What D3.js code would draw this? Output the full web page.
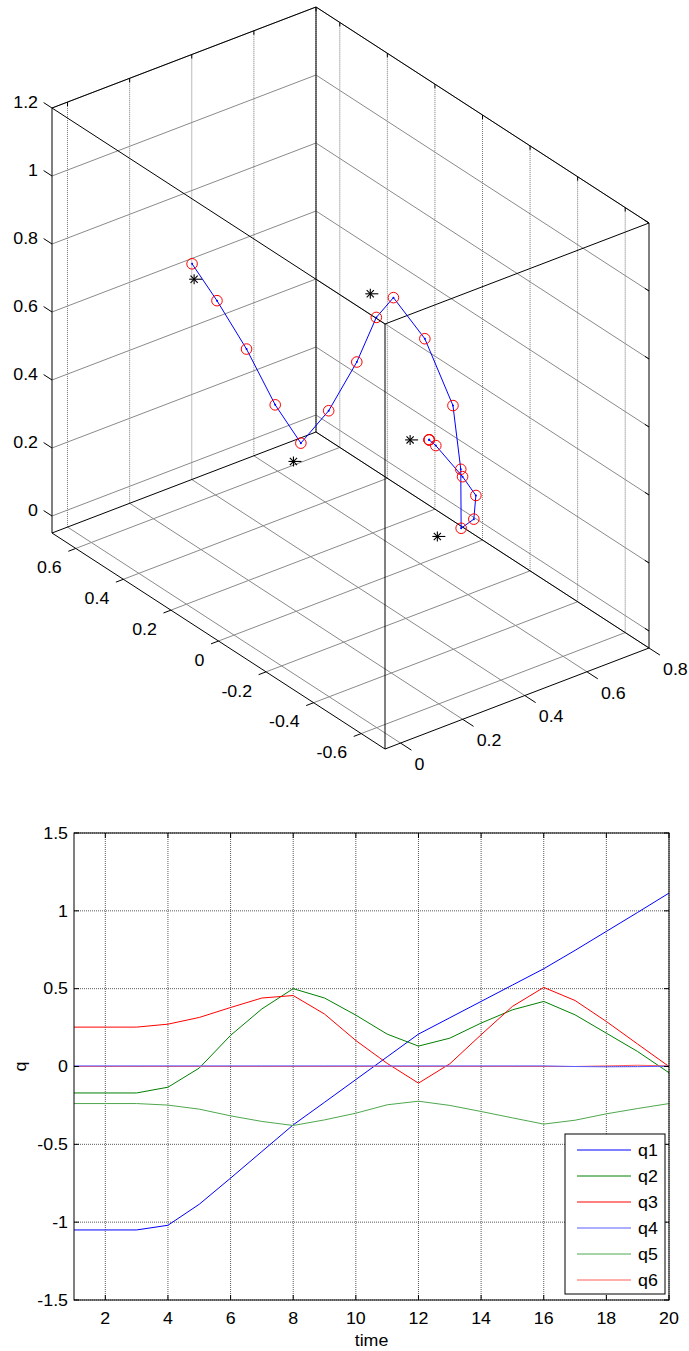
<!DOCTYPE html>
<html>
<head>
<meta charset="utf-8">
<script src="https://cdn.jsdelivr.net/npm/d3@7"></script>
<style>
  body { margin: 0; background: #fff; }
  svg text { font-family: "Liberation Sans", Arial, sans-serif; font-size: 16.5px; fill: #000; }
</style>
</head>
<body>
<svg id="fig" width="689" height="1351"></svg>
<script>
// ---- End-effector path (20 samples) ----
const pathX = [0.269, 0.269, 0.269, 0.289, 0.382, 0.467, 0.527, 0.562, 0.619, 0.662,
               0.645, 0.612, 0.609, 0.599, 0.546, 0.484, 0.455, 0.414, 0.328, 0.244];
const pathY = [-0.469, -0.469, -0.469, -0.471, -0.462, -0.407, -0.320, -0.221, -0.145, -0.056,
               0.040, 0.129, 0.197, 0.266, 0.315, 0.351, 0.421, 0.488, 0.500, 0.495];
const pathZ = [0.643, 0.643, 0.643, 0.620, 0.492, 0.382, 0.252, 0.168, 0.287, 0.419,
               0.578, 0.670, 0.582, 0.423, 0.276, 0.186, 0.277, 0.425, 0.592, 0.732];

// ---- Target points ----
const targetX = [0.243, 0.503, 0.523, 0.431, 0.233];
const targetY = [-0.423, -0.198, 0.110, 0.313, 0.472];
const targetZ = [0.631, 0.154, 0.721, 0.168, 0.701];

// ---- 3D axes ----
const xLim3 = [-0.05, 0.8], yLim3 = [-0.7, 0.7], zLim3 = [-0.05, 1.2];
const xTicks3 = [0, 0.2, 0.4, 0.6, 0.8];
const yTicks3 = [-0.6, -0.4, -0.2, 0, 0.2, 0.4, 0.6];
const zTicks3 = [0, 0.2, 0.4, 0.6, 0.8, 1, 1.2];

// ---- Joint angles vs time ----
const time = d3.range(1, 21);
const q1 = [-1.05, -1.05, -1.05, -1.02, -0.885, -0.717, -0.546, -0.375, -0.23, -0.084,
            0.062, 0.208, 0.313, 0.418, 0.523, 0.628, 0.746, 0.868, 0.99, 1.114];
const q2 = [-0.17, -0.17, -0.17, -0.133, -0.01, 0.2, 0.37, 0.5, 0.44, 0.33,
            0.208, 0.131, 0.182, 0.279, 0.364, 0.418, 0.332, 0.214, 0.096, -0.04];
const q3 = [0.253, 0.253, 0.253, 0.272, 0.315, 0.379, 0.44, 0.456, 0.337, 0.167,
            0.02, -0.107, 0.017, 0.204, 0.386, 0.508, 0.424, 0.289, 0.144, 0.0];
const q4 = [0.004, 0.004, 0.004, 0.004, 0.004, 0.004, 0.004, 0.004, 0.004, 0.004,
            0.004, 0.004, 0.004, 0.004, 0.004, 0.004, 0.0, -0.002, -0.001, 0.002];
const q5 = [-0.238, -0.238, -0.238, -0.248, -0.274, -0.317, -0.353, -0.379, -0.343, -0.3,
            -0.246, -0.223, -0.25, -0.289, -0.33, -0.37, -0.345, -0.304, -0.27, -0.238];
const q6 = [0, 0, 0, 0, 0, 0, 0, 0, 0, 0, 0, 0, 0, 0, 0, 0, 0, 0.004, 0.008, 0.004];
const seriesNames = ["q1", "q2", "q3", "q4", "q5", "q6"];
const seriesColors = ["#0000ff", "#008000", "#ff0000", "#5c5cff", "#4ea84e", "#ff5c5c"];
const timeTicks = [2, 4, 6, 8, 10, 12, 14, 16, 18, 20];
const qTicks = [-1.5, -1, -0.5, 0, 0.5, 1, 1.5];

const svg = d3.select("#fig");
const fmt = d => String(d);

// text with a slight horizontal stretch
function label(g, x, y, s, anchor) {
  return g.append("text")
    .attr("transform", `translate(${x},${y}) scale(1.08,1)`)
    .attr("text-anchor", anchor)
    .attr("dy", "0.35em")
    .text(s);
}

// ================= 3D view =================
const g3 = svg.append("g");
const corner = { L: [52, 533], B: [316, 432], F: [385, 749] };
const boxH = 425;
const sx = d3.scaleLinear().domain(xLim3).range([0, 1]);
const sy = d3.scaleLinear().domain([yLim3[1], yLim3[0]]).range([0, 1]);
const sz = d3.scaleLinear().domain(zLim3).range([0, 1]);
const ex = [corner.B[0] - corner.L[0], corner.B[1] - corner.L[1]];
const ey = [corner.F[0] - corner.L[0], corner.F[1] - corner.L[1]];
function proj(x, y, z) {
  const a = sx(x), b = sy(y), c = sz(z);
  return [corner.L[0] + a * ex[0] + b * ey[0],
          corner.L[1] + a * ex[1] + b * ey[1] - c * boxH];
}
function seg(g, p, q, stroke, dash, w) {
  g.append("line")
    .attr("x1", p[0]).attr("y1", p[1]).attr("x2", q[0]).attr("y2", q[1])
    .attr("stroke", stroke).attr("stroke-width", w || 1)
    .attr("stroke-dasharray", dash || null);
}
const [x0, x1] = xLim3, [y0, y1] = yLim3, [z0, z1] = zLim3;
const gridCol = "#8a8a8a";

// floor grid
xTicks3.forEach(v => seg(g3, proj(v, y1, z0), proj(v, y0, z0), gridCol));
yTicks3.forEach(v => seg(g3, proj(x0, v, z0), proj(x1, v, z0), gridCol));
// wall at y = ymax
xTicks3.forEach(v => seg(g3, proj(v, y1, z0), proj(v, y1, z1), "#777", "1,1"));
zTicks3.forEach(v => seg(g3, proj(x0, y1, v), proj(x1, y1, v), gridCol));
// wall at x = xmax
yTicks3.forEach(v => seg(g3, proj(x1, v, z0), proj(x1, v, z1), "#777", "1,1"));
zTicks3.forEach(v => seg(g3, proj(x1, y1, v), proj(x1, y0, v), gridCol));

// box edges
const cz = [z0, z1];
cz.forEach(z => {
  seg(g3, proj(x0, y1, z), proj(x1, y1, z), "#000");
  seg(g3, proj(x1, y1, z), proj(x1, y0, z), "#000");
  seg(g3, proj(x0, y1, z), proj(x0, y0, z), "#000");
  seg(g3, proj(x0, y0, z), proj(x1, y0, z), "#000");
});
[[x0, y1], [x1, y1], [x0, y0], [x1, y0]].forEach(([x, y]) =>
  seg(g3, proj(x, y, z0), proj(x, y, z1), "#000"));

function unit(v) { const n = Math.hypot(v[0], v[1]); return [v[0] / n, v[1] / n]; }
const ux = unit(ex), uy = unit(ey);

// z ticks and labels (edge x=xmin, y=ymax)
zTicks3.forEach(v => {
  const p = proj(x0, y1, v);
  seg(g3, p, [p[0] - uy[0] * 10, p[1] - uy[1] * 10], "#000");
  const r = proj(x1, y0, v);
  seg(g3, r, [r[0] - uy[0] * 5, r[1] - uy[1] * 5], "#000");
  label(g3, p[0] - 14, p[1] - 6, fmt(v), "end");
});
// y ticks and labels (edge x=xmin, z=zmin)
yTicks3.forEach(v => {
  const p = proj(x0, v, z0);
  seg(g3, p, [p[0] - ux[0] * 8, p[1] - ux[1] * 8], "#000");
  const t = proj(x1, v, z1);
  seg(g3, t, [t[0], t[1] + 4], "#000");
  label(g3, p[0] - 14, p[1] + 19, fmt(v), "end");
});
// x ticks and labels (edge y=ymin, z=zmin)
xTicks3.forEach(v => {
  const p = proj(v, y0, z0);
  seg(g3, p, [p[0] + uy[0] * 13, p[1] + uy[1] * 13], "#000");
  const t = proj(v, y1, z1);
  seg(g3, t, [t[0], t[1] + 4], "#000");
  label(g3, p[0] + 14, p[1] + 21, fmt(v), "start");
});

// target markers (asterisks)
targetX.forEach((x, i) => {
  const p = proj(x, targetY[i], targetZ[i]);
  const m = g3.append("g").attr("transform", `translate(${p[0]},${p[1]})`)
    .attr("stroke", "#000").attr("stroke-width", 1.1);
  m.append("line").attr("x1", -5).attr("y1", 0).attr("x2", 8).attr("y2", 0);
  m.append("line").attr("x1", 0).attr("y1", -5).attr("x2", 0).attr("y2", 5);
  m.append("line").attr("x1", -3.6).attr("y1", -3.6).attr("x2", 3.6).attr("y2", 3.6);
  m.append("line").attr("x1", -3.6).attr("y1", 3.6).attr("x2", 3.6).attr("y2", -3.6);
});

// path line and markers
const pathPts = pathX.map((x, i) => proj(x, pathY[i], pathZ[i]));
g3.append("path")
  .attr("d", d3.line()(pathPts))
  .attr("fill", "none").attr("stroke", "#0000ff").attr("stroke-width", 1);
g3.selectAll("circle.dot").data(pathPts).join("circle")
  .attr("class", "dot")
  .attr("cx", d => d[0]).attr("cy", d => d[1]).attr("r", 1)
  .attr("fill", "#0000ff");
g3.selectAll("circle.ring").data(pathPts).join("circle")
  .attr("class", "ring")
  .attr("cx", d => d[0]).attr("cy", d => d[1]).attr("r", 5.3)
  .attr("fill", "none").attr("stroke", "#ff0000").attr("stroke-width", 1);

// ================= Joint angle chart =================
const g2 = svg.append("g");
const plot = { left: 74, right: 669, top: 833, bottom: 1300 };
const tx = d3.scaleLinear().domain([1, 20]).range([plot.left, plot.right]);
const ty = d3.scaleLinear().domain([-1.5, 1.5]).range([plot.bottom, plot.top]);

// grid
timeTicks.forEach(v => seg(g2, [tx(v), plot.top], [tx(v), plot.bottom], "#5a5a5a", "1,1"));
qTicks.forEach(v => seg(g2, [plot.left, ty(v)], [plot.right, ty(v)], "#5a5a5a", "1,1"));

// series (q4 drawn last so the blue trace shows along zero)
const allQ = [q1, q2, q3, q4, q5, q6];
const drawOrder = [0, 1, 2, 4, 5, 3];
const lineGen = d3.line().x((d, i) => tx(time[i])).y(d => ty(d));
drawOrder.forEach(k => {
  g2.append("path").attr("d", lineGen(allQ[k]))
    .attr("fill", "none").attr("stroke", seriesColors[k]).attr("stroke-width", 1);
});

// axes box and ticks
g2.append("rect")
  .attr("x", plot.left).attr("y", plot.top)
  .attr("width", plot.right - plot.left).attr("height", plot.bottom - plot.top)
  .attr("fill", "none").attr("stroke", "#000").attr("stroke-width", 1);
timeTicks.forEach(v => {
  seg(g2, [tx(v), plot.bottom], [tx(v), plot.bottom - 5], "#000");
  seg(g2, [tx(v), plot.top], [tx(v), plot.top + 5], "#000");
  label(g2, tx(v), plot.bottom + 18, fmt(v), "middle");
});
qTicks.forEach(v => {
  seg(g2, [plot.left, ty(v)], [plot.left + 5, ty(v)], "#000");
  seg(g2, [plot.right, ty(v)], [plot.right - 5, ty(v)], "#000");
  label(g2, plot.left - 6, ty(v), fmt(v), "end");
});
label(g2, (plot.left + plot.right) / 2, 1340, "time", "middle");
g2.append("text")
  .attr("transform", `translate(26,${ty(0)}) rotate(-90) scale(1.08,1)`)
  .attr("text-anchor", "middle")
  .text("q");

// legend
const leg = g2.append("g");
leg.append("rect").attr("x", 565).attr("y", 1134).attr("width", 100).attr("height", 160)
  .attr("fill", "#fff").attr("stroke", "#000").attr("stroke-width", 1);
seriesNames.forEach((n, k) => {
  const y = 1150 + k * 26;
  seg(leg, [577, y], [631, y], seriesColors[k]);
  label(leg, 638, y, n, "start");
});
</script>
</body>
</html>
